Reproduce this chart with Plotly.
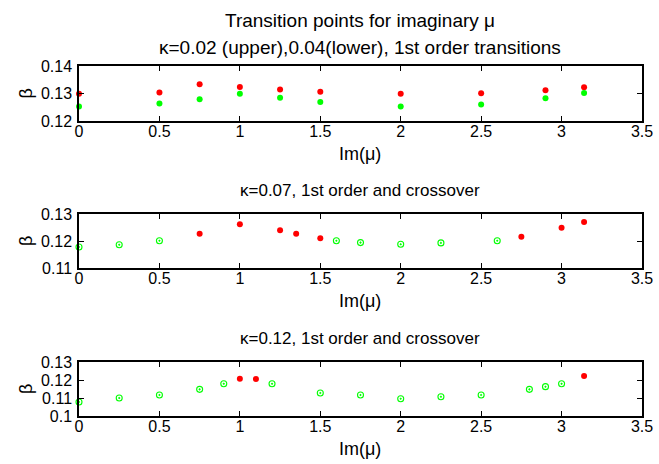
import plotly.graph_objects as go

# kappa = 0.02 / 0.04: first order transitions
mu_k1 = [0, 0.5, 0.75, 1, 1.25, 1.5, 2, 2.5, 2.9, 3.14]
beta_k002 = [0.1299, 0.1304, 0.1334, 0.1324, 0.1315, 0.1306, 0.1299, 0.1301, 0.1312, 0.1323]
beta_k004 = [0.1253, 0.1264, 0.1279, 0.1299, 0.1285, 0.1269, 0.1253, 0.1260, 0.1283, 0.1302]

# kappa = 0.07
mu_k007_first = [0.75, 1, 1.25, 1.35, 1.5, 2.75, 3, 3.14]
beta_k007_first = [0.1227, 0.1262, 0.1240, 0.1227, 0.1210, 0.1216, 0.1249, 0.1270]
mu_k007_cross = [0, 0.25, 0.5, 1.6, 1.75, 2, 2.25, 2.6]
beta_k007_cross = [0.1178, 0.1186, 0.1201, 0.1201, 0.1194, 0.1188, 0.1193, 0.1201]

# kappa = 0.12
mu_k012_first = [1, 1.1, 3.14]
beta_k012_first = [0.1207, 0.1206, 0.1222]
mu_k012_cross = [0, 0.25, 0.5, 0.75, 0.9, 1.2, 1.5, 1.75, 2, 2.25, 2.5, 2.8, 2.9, 3]
beta_k012_cross = [0.1078, 0.1100, 0.1117, 0.1148, 0.1179, 0.1179, 0.1128, 0.1117,
                   0.1096, 0.1107, 0.1117, 0.1148, 0.1163, 0.1179]

x_ticks = [0, 0.5, 1, 1.5, 2, 2.5, 3, 3.5]
x_ticktext = ["0", "0.5", "1", "1.5", "2", "2.5", "3", "3.5"]
y_ticks_1 = [0.12, 0.13, 0.14]
y_ticktext_1 = ["0.12", "0.13", "0.14"]
y_ticks_2 = [0.11, 0.12, 0.13]
y_ticktext_2 = ["0.11", "0.12", "0.13"]
y_ticks_3 = [0.10, 0.11, 0.12, 0.13]
y_ticktext_3 = ["0.1", "0.11", "0.12", "0.13"]

panel_titles = [
    "κ=0.07, 1st order and crossover",
    "κ=0.12, 1st order and crossover",
]
main_title = "Transition points for imaginary μ"
sub_title = "κ=0.02 (upper),0.04(lower), 1st order transitions"
x_label = "Im(μ)"
y_label = "β"

W, H = 659, 464
FONT = "Liberation Sans, Arial, Helvetica, sans-serif"
RED = "#ff0000"
GREEN = "#00ff00"


def py(p):
    return 1 - p / H


def px(p):
    return p / W


x_dom = [px(79), px(642)]
panels = [(66, 121), (214, 268), (362, 416)]

fig = go.Figure()

filled = dict(symbol="circle", size=6, line=dict(width=0))
open_dot = dict(symbol="circle-open-dot", size=6, color=GREEN, line=dict(width=1.1, color=GREEN))

fig.add_trace(go.Scatter(x=mu_k1, y=beta_k002, mode="markers", marker=dict(color=RED, **filled),
                         xaxis="x", yaxis="y", cliponaxis=False))
fig.add_trace(go.Scatter(x=mu_k1, y=beta_k004, mode="markers", marker=dict(color=GREEN, **filled),
                         xaxis="x", yaxis="y", cliponaxis=False))
fig.add_trace(go.Scatter(x=mu_k007_first, y=beta_k007_first, mode="markers",
                         marker=dict(color=RED, **filled), xaxis="x2", yaxis="y2", cliponaxis=False))
fig.add_trace(go.Scatter(x=mu_k007_cross, y=beta_k007_cross, mode="markers",
                         marker=open_dot, xaxis="x2", yaxis="y2", cliponaxis=False))
fig.add_trace(go.Scatter(x=mu_k012_first, y=beta_k012_first, mode="markers",
                         marker=dict(color=RED, **filled), xaxis="x3", yaxis="y3", cliponaxis=False))
fig.add_trace(go.Scatter(x=mu_k012_cross, y=beta_k012_cross, mode="markers",
                         marker=open_dot, xaxis="x3", yaxis="y3", cliponaxis=False))

axis_common = dict(showline=True, linecolor="black", linewidth=1.5, mirror="ticks",
                   ticks="inside", ticklen=5, tickwidth=1, tickcolor="black",
                   showgrid=False, zeroline=False, automargin=False,
                   tickfont=dict(family=FONT, size=16, color="black"))

y_specs = [
    ([0.12, 0.14], y_ticks_1, y_ticktext_1),
    ([0.11, 0.13], y_ticks_2, y_ticktext_2),
    ([0.10, 0.13], y_ticks_3, y_ticktext_3),
]

layout = dict(width=W, height=H, autosize=False,
              margin=dict(l=0, r=0, t=0, b=0, pad=0, autoexpand=False),
              paper_bgcolor="white", plot_bgcolor="white", showlegend=False)

for i, ((top, bot), (yr, yt, ytt)) in enumerate(zip(panels, y_specs), start=1):
    sfx = "" if i == 1 else str(i)
    layout["xaxis" + sfx] = dict(domain=x_dom, range=[0, 3.5], tickvals=x_ticks, ticktext=x_ticktext,
                                 anchor="y" + sfx, ticklabelstandoff=-5, **axis_common)
    layout["yaxis" + sfx] = dict(domain=[py(bot), py(top)], range=yr, tickvals=yt, ticktext=ytt,
                                 anchor="x" + sfx, ticklabelstandoff=2, **axis_common)

annotations = []


def text_font(s):
    return dict(family=FONT, size=s, color="black")


annotations.append(dict(text=main_title, x=px(360.5), y=py(21), xref="paper", yref="paper",
                        showarrow=False, xanchor="center", yanchor="middle", font=text_font(19)))
annotations.append(dict(text=sub_title, x=px(360.5), y=py(47.5), xref="paper", yref="paper",
                        showarrow=False, xanchor="center", yanchor="middle", font=text_font(19)))
for t, (top, bot) in zip(panel_titles, panels[1:]):
    annotations.append(dict(text=t, x=px(360.5), y=py(top - 24), xref="paper", yref="paper",
                            showarrow=False, xanchor="center", yanchor="middle", font=text_font(17)))
for top, bot in panels:
    annotations.append(dict(text=x_label, x=px(360.5), y=py(bot + 33), xref="paper", yref="paper",
                            showarrow=False, xanchor="center", yanchor="middle", font=text_font(18)))
    annotations.append(dict(text=y_label, x=px(26), y=py((top + bot) / 2), xref="paper", yref="paper",
                            showarrow=False, xanchor="center", yanchor="middle", textangle=-90,
                            font=text_font(18)))
layout["annotations"] = annotations

fig.update_layout(**layout)
fig.write_html("out.html")
